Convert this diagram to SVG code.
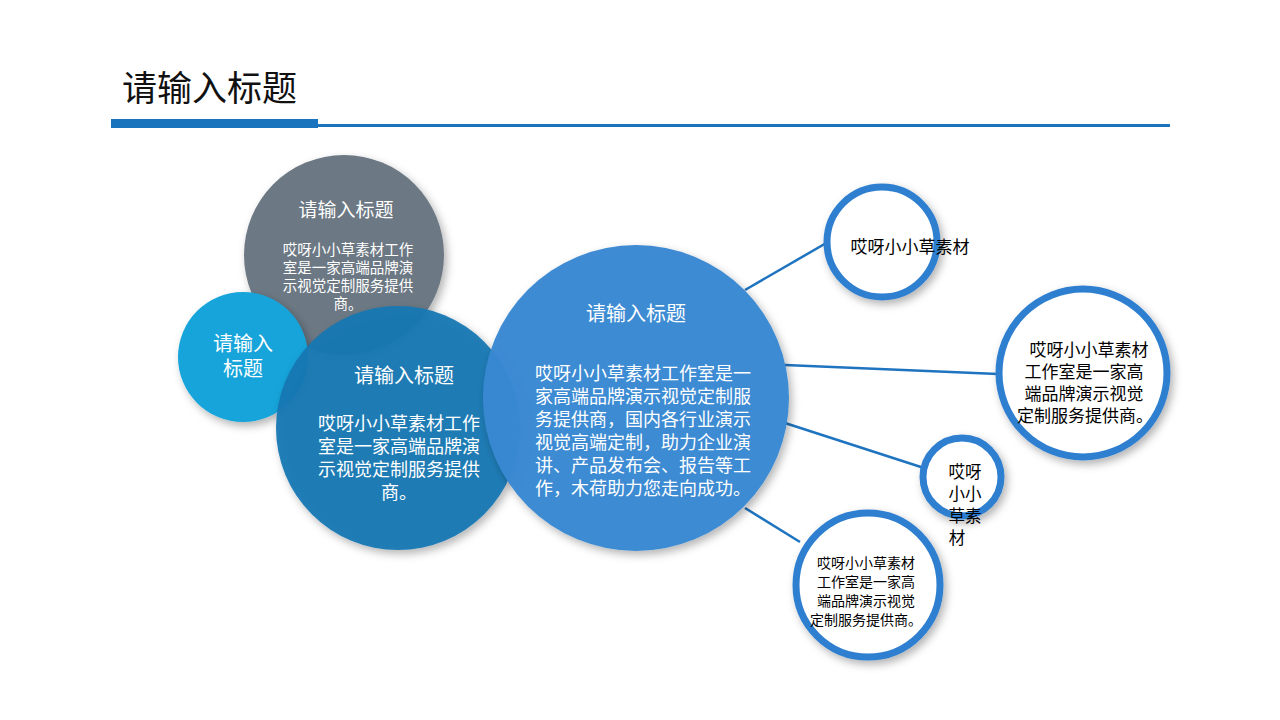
<svg xmlns="http://www.w3.org/2000/svg" width="1280" height="720" viewBox="0 0 1280 720">
<defs>
<filter id="sh" x="-20%" y="-20%" width="150%" height="150%"><feDropShadow dx="3" dy="4" stdDeviation="4" flood-color="#000" flood-opacity="0.3"/></filter>
</defs>
<style>
text{font-family:"Noto Sans CJK SC","Liberation Sans",sans-serif;}
.w{fill:#fff;text-anchor:middle;}
.k{fill:#000;text-anchor:middle;}
.ring{fill:#fff;stroke:#2f7fd0;stroke-width:7;filter:url(#sh);}
.ln{stroke:#1f74c0;stroke-width:2.5;fill:none;}
</style>
<rect width="1280" height="720" fill="#fff"/>
<text x="122" y="101" font-size="35" fill="#111">请输入标题</text>
<rect x="111" y="119" width="207" height="9" fill="#1a73bd"/>
<rect x="318" y="124" width="852" height="3" fill="#1a73bd"/>
<g id="connectors">
<line class="ln" x1="745" y1="290" x2="828" y2="242"/>
<line class="ln" x1="785" y1="365" x2="998" y2="374"/>
<line class="ln" x1="785" y1="423" x2="924" y2="468"/>
<line class="ln" x1="745" y1="508" x2="800" y2="542"/>
</g>
<g id="n-gray"><circle cx="344" cy="255" r="100" fill="#6c7883" filter="url(#sh)"/>
<text class="w" x="346" y="217" font-size="19">请输入标题</text>
<text class="w" font-size="14.5"><tspan x="348" y="255">哎呀小小草素材工作</tspan><tspan x="348" y="273">室是一家高端品牌演</tspan><tspan x="348" y="291">示视觉定制服务提供</tspan><tspan x="348" y="309">商。</tspan></text></g>
<g id="n-cyan"><circle cx="243" cy="357" r="65" fill="#14a4da" filter="url(#sh)"/>
<text class="w" font-size="20"><tspan x="243" y="351">请输入</tspan><tspan x="243" y="376">标题</tspan></text></g>
<g id="n-dark"><circle cx="398" cy="428" r="122" fill="#1677b3" fill-opacity="0.95" filter="url(#sh)"/>
<text class="w" x="404" y="383" font-size="20">请输入标题</text>
<text class="w" font-size="18"><tspan x="399" y="430">哎呀小小草素材工作</tspan><tspan x="399" y="453">室是一家高端品牌演</tspan><tspan x="399" y="476">示视觉定制服务提供</tspan><tspan x="399" y="499">商。</tspan></text></g>
<g id="n-big"><circle cx="636" cy="398" r="153" fill="#3a88d3" fill-opacity="0.97" filter="url(#sh)"/>
<text class="w" x="636" y="321" font-size="20">请输入标题</text>
<text class="w" font-size="18"><tspan x="643" y="380">哎呀小小草素材工作室是一</tspan><tspan x="643" y="403">家高端品牌演示视觉定制服</tspan><tspan x="643" y="426">务提供商，国内各行业演示</tspan><tspan x="643" y="449">视觉高端定制，助力企业演</tspan><tspan x="643" y="472">讲、产品发布会、报告等工</tspan><tspan x="643" y="495">作，木荷助力您走向成功。</tspan></text></g>
<g id="n-r1"><circle class="ring" cx="882" cy="242" r="55"/>
<text class="k" x="910" y="253" font-size="17">哎呀小小草素材</text></g>
<g id="n-r2"><circle class="ring" cx="1083" cy="373" r="84"/>
<text class="k" font-size="17"><tspan x="1089" y="356">哎呀小小草素材</tspan><tspan x="1084" y="378">工作室是一家高</tspan><tspan x="1084" y="400">端品牌演示视觉</tspan><tspan x="1085" y="422">定制服务提供商。</tspan></text></g>
<g id="n-r3"><circle class="ring" cx="962" cy="477" r="39"/>
<text class="k" font-size="16.5"><tspan x="965" y="478">哎呀</tspan><tspan x="965" y="500">小小</tspan><tspan x="965" y="522">草素</tspan><tspan x="957" y="544">材</tspan></text></g>
<g id="n-r4"><circle class="ring" cx="868" cy="585" r="72"/>
<text class="k" font-size="14"><tspan x="866" y="568">哎呀小小草素材</tspan><tspan x="866" y="587">工作室是一家高</tspan><tspan x="866" y="606">端品牌演示视觉</tspan><tspan x="866" y="625">定制服务提供商。</tspan></text></g>
</svg>
